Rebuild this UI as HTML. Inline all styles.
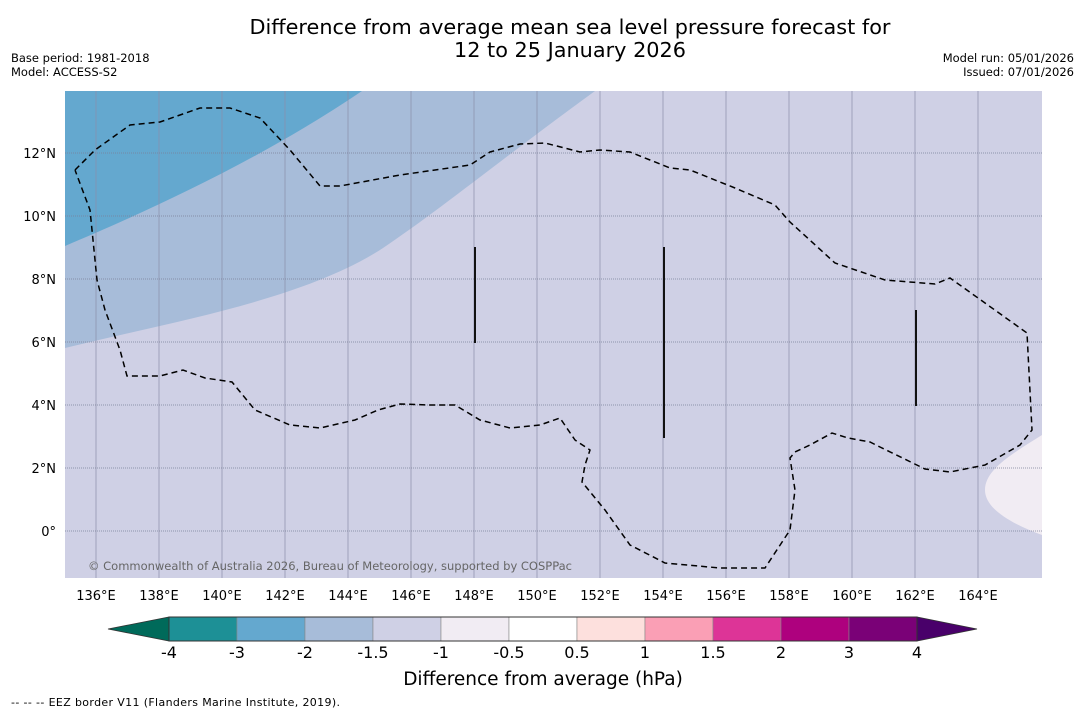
<!DOCTYPE html>
<html><head><meta charset="utf-8"><style>
body{margin:0;background:#fff;width:1085px;height:713px;overflow:hidden;font-family:"Liberation Sans","DejaVu Sans",sans-serif}
svg{display:block}
</style></head><body>
<svg id="c" width="1085" height="713" xmlns="http://www.w3.org/2000/svg">
<text x="570" y="34" text-anchor="middle" font-size="20.8" font-family="DejaVu Sans, sans-serif">Difference from average mean sea level pressure forecast for</text>
<text x="570" y="57" text-anchor="middle" font-size="20.8" font-family="DejaVu Sans, sans-serif">12 to 25 January 2026</text>
<text x="11" y="62" font-size="11.5" font-family="DejaVu Sans, sans-serif">Base period: 1981-2018</text>
<text x="11" y="76" font-size="11.5" font-family="DejaVu Sans, sans-serif">Model: ACCESS-S2</text>
<text x="1074" y="62" text-anchor="end" font-size="11.5" font-family="DejaVu Sans, sans-serif">Model run: 05/01/2026</text>
<text x="1074" y="76" text-anchor="end" font-size="11.5" font-family="DejaVu Sans, sans-serif">Issued: 07/01/2026</text>
<defs><clipPath id="pc"><rect x="65" y="91" width="977" height="487"/></clipPath></defs>
<g id="map" clip-path="url(#pc)">
<rect x="65" y="91" width="977" height="487" fill="#cfd0e5"/>
<path d="M65,348 C180,320 300,300 380,250 C440,210 500,160 595,91 L65,91 Z" fill="#a7bcd9"/>
<path d="M65,246 C150,210 260,160 362,91 L65,91 Z" fill="#64a8cf"/>
<path d="M1042,435 C1010,455 985,470 985,490 C985,510 1015,525 1042,535 Z" fill="#f1ecf3"/>
<g id="grid"></g>
<path id="eez" fill="none" stroke="#000" stroke-width="1.5" stroke-dasharray="6,4"/>
<g stroke="#111" stroke-width="2">
<line x1="475" y1="247" x2="475" y2="343"/>
<line x1="664" y1="247" x2="664" y2="438"/>
<line x1="916" y1="310" x2="916" y2="406"/>
</g>
<text x="88" y="570" font-size="11.5" fill="#666" font-family="DejaVu Sans, sans-serif" textLength="484">© Commonwealth of Australia 2026, Bureau of Meteorology, supported by COSPPac</text>
</g>
<g id="ticks"></g>
<g id="cbar"></g>
<text x="543" y="685" text-anchor="middle" font-size="18.5" font-family="DejaVu Sans, sans-serif">Difference from average (hPa)</text>
<text x="11" y="706" font-size="11" font-family="DejaVu Sans, sans-serif" textLength="329">--  --  -- EEZ border V11 (Flanders Marine Institute, 2019).</text>
</svg>
<script>
const lonTicks=[136,138,140,142,144,146,148,150,152,154,156,158,160,162,164];
const latTicks=[12,10,8,6,4,2,0];
const levelLabels=["-4","-3","-2","-1.5","-1","-0.5","0.5","1","1.5","2","3","4"];
const levelColors=["#1d9096","#64a8cf","#a7bcd9","#cfd0e5","#f1ecf3","#ffffff","#fde0dd","#fa9fb5","#dd3497","#ae017e","#7a0177"];
const extendColors=["#006a5a","#49006a"];
const eezPts=[[75,170],[95,150],[130,125],[160,122],[200,108],[230,108],[260,118],[290,150],[320,186],[340,186],[400,175],[470,165],[490,152],[520,144],[545,143],[580,152],[600,150],[630,152],[670,168],[690,170],[735,188],[775,205],[790,222],[835,263],[885,280],[935,284],[950,278],[1027,333],[1032,430],[1020,445],[985,465],[950,472],[925,469],[880,447],[870,442],[848,438],[832,433],[810,445],[795,452],[790,458],[795,490],[790,530],[765,568],[720,568],[665,563],[630,545],[605,510],[582,482],[585,465],[590,450],[575,440],[560,418],[540,425],[510,428],[480,420],[455,405],[430,405],[400,404],[378,410],[355,420],[320,428],[290,425],[255,410],[232,382],[205,378],[183,370],[160,376],[127,376],[120,350],[105,310],[97,280],[93,240],[90,210],[75,170]];
const NS="http://www.w3.org/2000/svg";
const xLon=l=>96+(l-136)*31.5, yLat=l=>531-l*31.5;
function mk(t,a,p){const e=document.createElementNS(NS,t);for(const k in a)e.setAttribute(k,a[k]);p.appendChild(e);return e;}
const grid=document.getElementById('grid'),ticks=document.getElementById('ticks');
lonTicks.forEach(l=>{
 const ln=mk('line',{x1:xLon(l),x2:xLon(l),y1:91,y2:578,stroke:'#8a8ea8','stroke-width':0.7},grid);
 
 
 const t=mk('text',{x:xLon(l),y:600,'text-anchor':'middle','font-size':13,'font-family':'DejaVu Sans, sans-serif'},ticks);
 t.textContent=l+'°E';
 
 
});
latTicks.forEach(l=>{
 const ln=mk('line',{x1:65,x2:1042,y1:yLat(l),y2:yLat(l),stroke:'#7a7f98','stroke-width':0.8,'stroke-dasharray':'1,1'},grid);
 
 
 const t=mk('text',{x:56,y:yLat(l)+5,'text-anchor':'end','font-size':13,'font-family':'DejaVu Sans, sans-serif'},ticks);
 t.textContent=l===0?'0°':l+'°N';
 
 
});
document.getElementById('eez').setAttribute('d','M'+eezPts.map(p=>p.join(',')).join(' L'));
const cb=document.getElementById('cbar');
const x0=169,w=68,y0=617,h=24,n=levelColors.length,xe=x0+n*w;
const lt=mk('polygon',{points:`108,${y0+h/2} ${x0},${y0} ${x0},${y0+h}`,fill:extendColors[0],stroke:'#333','stroke-width':0.8},cb);


const rt=mk('polygon',{points:`977,${y0+h/2} ${xe},${y0} ${xe},${y0+h}`,fill:extendColors[1],stroke:'#333','stroke-width':0.8},cb);


levelColors.forEach((c,i)=>{
 const r=mk('rect',{x:x0+i*w,y:y0,width:w,height:h,fill:c,stroke:'#888','stroke-width':0.6},cb);
 
 
});
mk('rect',{x:x0,y:y0,width:n*w,height:h,fill:'none',stroke:'#333','stroke-width':1},cb);
levelLabels.forEach((s,i)=>{
 const t=mk('text',{x:x0+i*w,y:658,'text-anchor':'middle','font-size':16,'font-family':'DejaVu Sans, sans-serif'},cb);
 t.textContent=s;
 
 
});
</script>
</body></html>
